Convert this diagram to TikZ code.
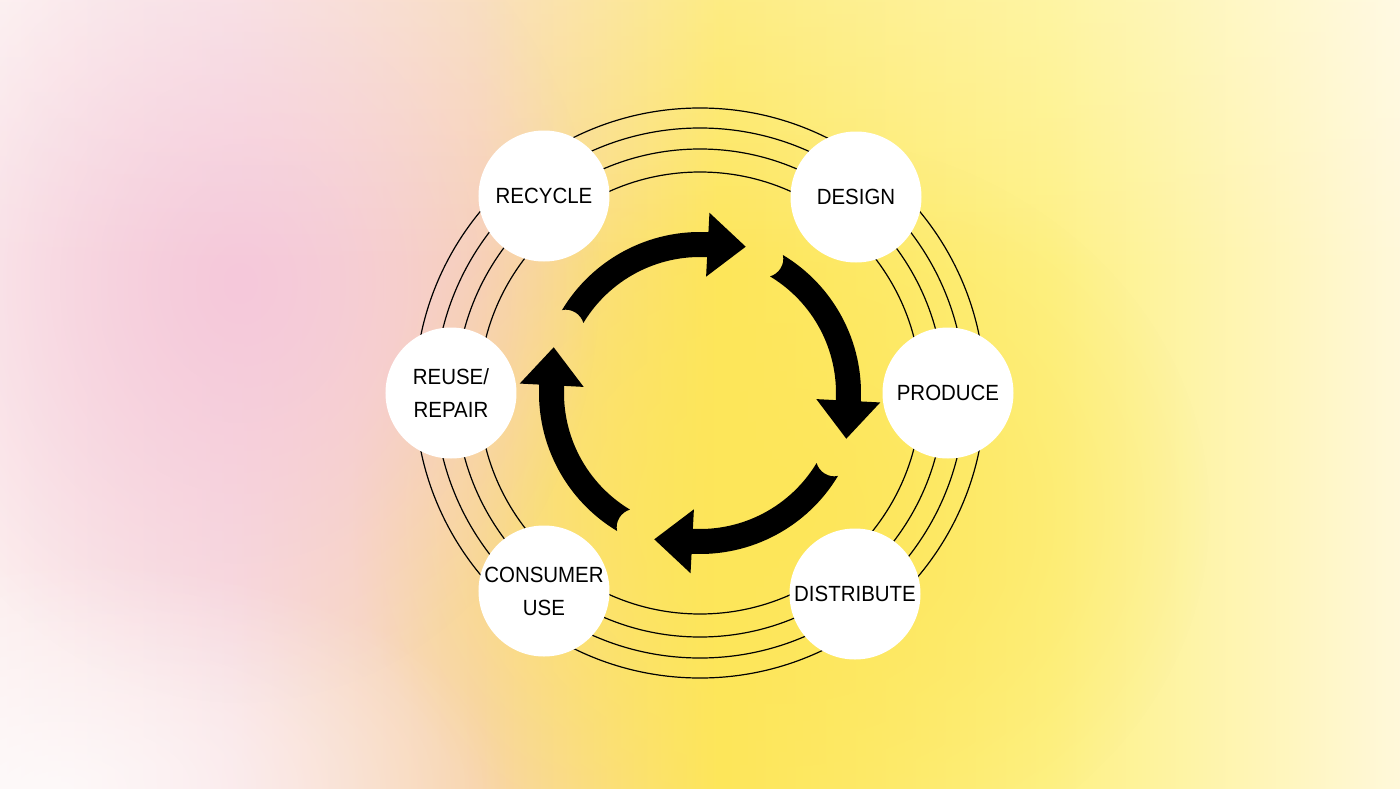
\documentclass[tikz,border=0pt]{standalone}
\usepackage{fontspec}
\setmainfont[FakeStretch=0.93]{Liberation Sans}
\usetikzlibrary{calc,fadings}

\definecolor{bgpinkwhite}{HTML}{FCEEEE}
\definecolor{bgpink}{HTML}{F5C8DA}
\definecolor{bgblush}{HTML}{F8DDE0}
\definecolor{bgpeach}{HTML}{F8D4AA}
\definecolor{bgyellow}{HTML}{FDE65A}
\definecolor{bglemon}{HTML}{FEF184}
\definecolor{bgcream}{HTML}{FFF8DA}

\tikzfading[name=blob, inner color=transparent!0, outer color=transparent!100]
\tikzfading[name=fadetop, top color=transparent!0, bottom color=transparent!100]

\tikzset{
    stage/.style={circle, fill=white, minimum size=131pt, inner sep=0pt,
        align=center, font=\fontsize{22}{33}\selectfont},
    ring/.style={line width=1.2pt},
}

\begin{document}
\begin{tikzpicture}[x=1pt,y=1pt]
    \useasboundingbox (-700,-395) rectangle (700,393);
    \shade[left color=bgpinkwhite, right color=bgblush] (-700,-395) rectangle (-470,393);
    \shade[left color=bgblush, right color=bgpeach] (-470,-395) rectangle (-220,393);
    \shade[left color=bgpeach, right color=bgyellow] (-220,-395) rectangle (20,393);
    \shade[left color=bgyellow, right color=bglemon] (20,-395) rectangle (350,393);
    \shade[left color=bglemon, right color=bgcream] (350,-395) rectangle (700,393);
    \fill[bgyellow, path fading=blob] (80,-120) ellipse (430 and 380);
    \fill[bgpink, path fading=blob] (-460,110) ellipse (360 and 420);
    \fill[white, opacity=0.7, path fading=blob] (-640,-395) ellipse (450 and 230);
    \fill[white, opacity=0.25, path fading=fadetop] (-700,393) rectangle (700,120);

    \foreach \r in {221,244,265,285}
        \draw[ring] (0,0) circle (\r);

    \foreach \t in {149,59,-31,-121} {
        \pgfmathsetmacro\b{\t-62}
        \fill (\t:161) arc[start angle=\t, end angle=\b, radius=161]
            -- (\b:180.5) -- ($(\b:148.5)+({\b-90}:38)$) -- (\b:116.5) -- (\b:136)
            arc[start angle=\b, end angle=\t, radius=136]
            .. controls ({\t-2.5}:143) and ({\t-2.5}:154) .. (\t:161) -- cycle;
    }

    \node[stage] (recycle) at (-156,197) {RECYCLE};
    \node[stage] (design) at (156,196) {DESIGN};
    \node[stage] (produce) at (248,0) {PRODUCE};
    \node[stage] (distribute) at (155,-201) {DISTRIBUTE};
    \node[stage] (consumer) at (-156,-198) {CONSUMER\\USE};
    \node[stage] (reuse) at (-249,0) {REUSE/\\REPAIR};
\end{tikzpicture}
\end{document}
